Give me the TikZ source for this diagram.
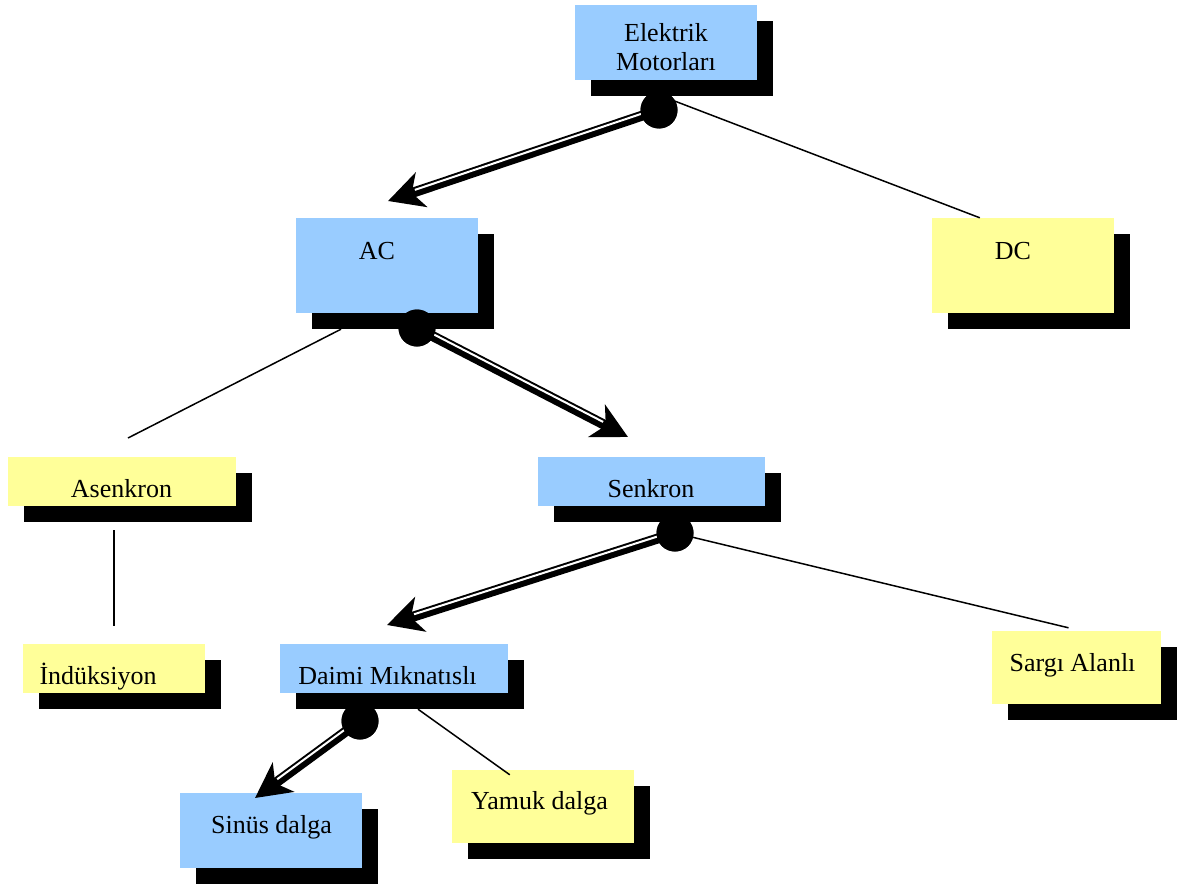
\documentclass[tikz,border=0pt]{standalone}
\usepackage{fontspec}
\setmainfont{Liberation Serif}
\usetikzlibrary{arrows.meta,calc,shadows}
\definecolor{boxblue}{HTML}{99CCFF}
\definecolor{boxyellow}{HTML}{FFFF99}
\newcommand\dblarr[3]{%
  \draw[line width=10pt,-{Stealth[length=35pt,width=36pt,inset=10pt]}] (#1.center) -- (#2);
  \coordinate (tmpA) at ($(#1.center)!18pt!(#2)$);
  \coordinate (tmpB) at ($(#2)!29pt!(#1.center)$);
  \draw[white,line width=2pt] ($(tmpA)!2pt!#3:(#2)$) -- ($(tmpB)!2pt!#3:(#2)$);
}
\begin{document}
\begin{tikzpicture}[x=1pt,y=-1pt,
  bb/.style={draw=none,inner sep=0pt,
    drop shadow={shadow xshift=16pt,shadow yshift=-16pt,opacity=1,fill=black}},
  bluebox/.style={bb,fill=boxblue},
  yellowbox/.style={bb,fill=boxyellow},
  lbl/.style={inner sep=0pt,anchor=base,font=\fontsize{26}{29}\selectfont},
  thinline/.style={line width=1.5pt,black},
  dotc/.style={circle,fill=black,inner sep=0pt,minimum size=37pt}]
\useasboundingbox (0,0) rectangle (1180,883);
% boxes
\node[bluebox,minimum width=182pt,minimum height=75pt] (em) at (666,42.5) {};
\node[bluebox,minimum width=182pt,minimum height=95pt] (ac) at (387,265.5) {};
\node[yellowbox,minimum width=182pt,minimum height=95pt] (dc) at (1023,265.5) {};
\node[yellowbox,minimum width=228pt,minimum height=49pt] (as) at (122,481.5) {};
\node[bluebox,minimum width=227pt,minimum height=49pt] (sk) at (651.5,481.5) {};
\node[yellowbox,minimum width=182pt,minimum height=49pt] (in) at (114,668.5) {};
\node[bluebox,minimum width=228pt,minimum height=49pt] (dm) at (394,668.5) {};
\node[yellowbox,minimum width=169pt,minimum height=73pt] (sa) at (1076.5,667.5) {};
\node[bluebox,minimum width=182pt,minimum height=75pt] (si) at (271,830.5) {};
\node[yellowbox,minimum width=182pt,minimum height=73pt] (ya) at (543,806.5) {};
% labels
\node[lbl,anchor=center,align=center] (emT) at (666,47) {Elektrik\\Motorları};
\node[lbl] (acT) at (377,259) {AC};
\node[lbl] (dcT) at (1013,259) {DC};
\node[lbl] (asT) at (121.5,497) {Asenkron};
\node[lbl] (skT) at (651,497) {Senkron};
\node[lbl] (inT) at (98,684) {İndüksiyon};
\node[lbl] (dmT) at (387.5,684) {Daimi Mıknatıslı};
\node[lbl] (saT) at (1072.5,671) {Sargı Alanlı};
\node[lbl] (siT) at (271.5,833) {Sinüs dalga};
\node[lbl] (yaT) at (539.5,809) {Yamuk dalga};
% dots and connector ends
\node[dotc] (emD) at (659,110) {};
\node[dotc] (acD) at (417,328) {};
\node[dotc] (skD) at (675,533) {};
\node[dotc] (dmD) at (360,721) {};
\coordinate (acTip) at (388,201);
\coordinate (skTip) at (628,437);
\coordinate (dmTip) at (387,625);
\coordinate (siTip) at (255,798);
\coordinate (emL) at ($(em.south)+(-4,16)$);
\coordinate (dcIn) at ($(dc.north west)+(48,0)$);
\coordinate (acL) at ($(ac.south)+(-46,16)$);
\coordinate (asIn) at (128,438);
\coordinate (asOut) at ($(as.south)+(-8,24)$);
\coordinate (inIn) at ($(in.north)+(0,-18)$);
\coordinate (saIn) at ($(sa.north)+(-8,-3)$);
\coordinate (dmR) at ($(dm.south)+(24,16)$);
\coordinate (yaIn) at ($(ya.north west)+(58,5)$);
% thin connectors
\draw[thinline] (emL) -- (dcIn);
\draw[thinline] (acL) -- (asIn);
\draw[thinline] (asOut) -- (inIn);
\draw[thinline] (skD.center) -- (saIn);
\draw[thinline] (dmR) -- (yaIn);
% double arrows
\dblarr{emD}{acTip}{-90}
\dblarr{acD}{skTip}{90}
\dblarr{skD}{dmTip}{-90}
\dblarr{dmD}{siTip}{-90}
% dots on top
\node[dotc] at (emD) {};
\node[dotc] at (acD) {};
\node[dotc] at (skD) {};
\node[dotc] at (dmD) {};
\end{tikzpicture}
\end{document}
